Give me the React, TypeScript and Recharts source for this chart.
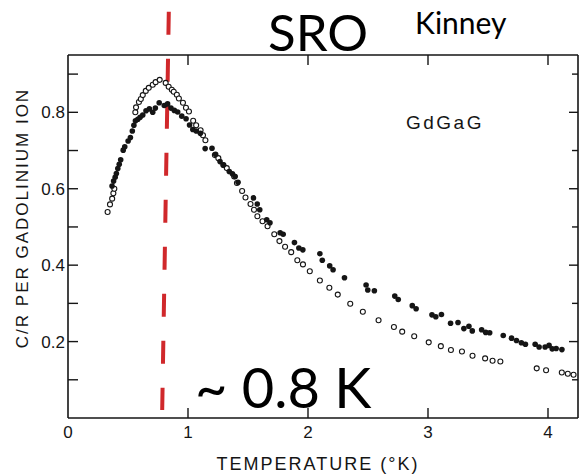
import React from "react";
import { ScatterChart, Scatter, XAxis, YAxis, ReferenceLine } from "recharts";

// open circles (calculated) - temperature (K) and C/R
const calcTemps = [
  0.33, 0.35, 0.368, 0.378, 0.386, 0.561, 0.567, 0.591, 0.607, 0.623, 0.648, 0.673,
  0.706, 0.73, 0.764, 0.814, 0.839, 0.865, 0.881, 0.907, 0.924, 0.958, 0.983, 1.008,
  1.043, 1.068, 1.105, 1.125, 1.145, 1.224, 1.253, 1.295, 1.323, 1.385, 1.408, 1.451,
  1.479, 1.521, 1.55, 1.578, 1.621, 1.663, 1.719, 1.762, 1.809, 1.86, 1.911, 1.958,
  2.015, 2.099, 2.178, 2.248, 2.352, 2.457, 2.588, 2.716, 2.785, 2.885, 3.006, 3.107,
  3.191, 3.283, 3.371, 3.476, 3.538, 3.603, 3.906, 3.984, 4.115, 4.165, 4.213,
];
const calcHeat = [
  0.539, 0.559, 0.574, 0.588, 0.6, 0.8, 0.813, 0.827, 0.835, 0.845, 0.856, 0.864,
  0.872, 0.879, 0.885, 0.877, 0.867, 0.859, 0.854, 0.846, 0.836, 0.825, 0.812, 0.802,
  0.778, 0.766, 0.753, 0.74, 0.727, 0.688, 0.68, 0.662, 0.654, 0.632, 0.615, 0.594,
  0.577, 0.56, 0.545, 0.528, 0.515, 0.502, 0.481, 0.463, 0.448, 0.434, 0.413, 0.402,
  0.384, 0.36, 0.341, 0.323, 0.299, 0.278, 0.256, 0.238, 0.226, 0.214, 0.198, 0.188,
  0.178, 0.174, 0.163, 0.156, 0.15, 0.148, 0.13, 0.125, 0.119, 0.116, 0.113,
];

// filled dots (measured)
const measTemps = [
  0.367, 0.38, 0.393, 0.403, 0.415, 0.427, 0.439, 0.46, 0.473, 0.501, 0.52, 0.536,
  0.549, 0.562, 0.582, 0.601, 0.623, 0.65, 0.678, 0.706, 0.728, 0.76, 0.802, 0.83,
  0.858, 0.886, 0.914, 0.948, 0.984, 1.013, 1.04, 1.069, 1.103, 1.143, 1.2, 1.23,
  1.267, 1.295, 1.344, 1.37, 1.393, 1.417, 1.546, 1.577, 1.598, 1.656, 1.683, 1.768,
  1.793, 1.887, 1.924, 1.957, 2.099, 2.119, 2.181, 2.209, 2.304, 2.484, 2.498, 2.553,
  2.723, 2.752, 2.869, 2.901, 3.033, 3.065, 3.112, 3.188, 3.25, 3.299, 3.341, 3.369,
  3.447, 3.481, 3.514, 3.627, 3.696, 3.737, 3.778, 3.812, 3.893, 3.926, 3.976, 4.009,
  4.035, 4.068, 4.116,
];
const measHeat = [
  0.607, 0.62, 0.63, 0.64, 0.653, 0.664, 0.676, 0.701, 0.71, 0.725, 0.734, 0.751,
  0.766, 0.778, 0.782, 0.787, 0.793, 0.804, 0.809, 0.8, 0.811, 0.825, 0.818, 0.822,
  0.811, 0.805, 0.801, 0.79, 0.783, 0.767, 0.755, 0.751, 0.745, 0.705, 0.706, 0.69,
  0.671, 0.662, 0.645, 0.639, 0.632, 0.617, 0.576, 0.56, 0.545, 0.519, 0.511, 0.485,
  0.481, 0.459, 0.445, 0.44, 0.43, 0.413, 0.398, 0.388, 0.367, 0.348, 0.335, 0.333,
  0.319, 0.31, 0.294, 0.286, 0.27, 0.265, 0.271, 0.248, 0.25, 0.234, 0.24, 0.228,
  0.231, 0.224, 0.223, 0.216, 0.209, 0.203, 0.197, 0.193, 0.193, 0.186, 0.186, 0.19,
  0.181, 0.182, 0.179,
];

const xTicks = [0, 1, 2, 3, 4];
const yTicks = [0.1, 0.2, 0.3, 0.4, 0.5, 0.6, 0.7, 0.8, 0.9];
const yLabelled = [0.2, 0.4, 0.6, 0.8];
const markerT = [0.84, 0.785]; // dashed guide, top and bottom
const markerC = [1.063, 0.021];

const calcData = calcTemps.map((t, i) => ({ t, c: calcHeat[i] }));
const measData = measTemps.map((t, i) => ({ t, c: measHeat[i] }));

const ink = "#151515";
const axisFont = "'Liberation Sans', Arial, sans-serif";

const BottomTick = (props: any) => {
  const { x, y, payload } = props;
  return (
    <g>
      {payload.value > 0 && (
        <line x1={x} y1={y} x2={x} y2={y - 10} stroke={ink} strokeWidth={1.4} />
      )}
      <text x={x} y={y + 20} textAnchor="middle" fontSize={17} fontFamily={axisFont} fill={ink}>
        {payload.value}
      </text>
    </g>
  );
};

const TopTick = (props: any) => {
  const { x, y } = props;
  return <line x1={x} y1={y} x2={x} y2={y + 10} stroke={ink} strokeWidth={1.4} />;
};

const LeftTick = (props: any) => {
  const { x, y, payload } = props;
  const v = Math.round(payload.value * 10) / 10;
  return (
    <g>
      <line x1={x} y1={y} x2={x + 10} y2={y} stroke={ink} strokeWidth={1.4} />
      {yLabelled.includes(v) && (
        <text x={x - 3} y={y + 6} textAnchor="end" fontSize={17} fontFamily={axisFont} fill={ink}>
          {v.toFixed(1)}
        </text>
      )}
    </g>
  );
};

const RightTick = (props: any) => {
  const { x, y, index } = props;
  const len = index % 2 === 1 ? 9 : 6;
  return <line x1={x} y1={y} x2={x - len} y2={y} stroke={ink} strokeWidth={1.4} />;
};

const OpenDot = (props: any) => (
  <circle cx={props.cx} cy={props.cy} r={2.5} fill="#fff" stroke={ink} strokeWidth={1.1} />
);
const FilledDot = (props: any) => (
  <circle cx={props.cx} cy={props.cy} r={2.8} fill={ink} />
);

export default function App() {
  return (
    <div style={{ position: "absolute", left: 0, top: 0, width: 579, height: 476, background: "#fff" }}>
      <ScatterChart
        width={579}
        height={476}
        margin={{ top: 0, right: 0, bottom: 0, left: 0 }}
      >
        <XAxis
          type="number"
          dataKey="t"
          domain={[0, 4.25]}
          ticks={xTicks}
          height={58}
          tick={<BottomTick />}
          tickLine={false}
          tickSize={0}
          tickMargin={0}
          axisLine={{ stroke: ink, strokeWidth: 1.6 }}
          allowDataOverflow
        />
        <XAxis
          xAxisId="top"
          orientation="top"
          type="number"
          dataKey="t"
          domain={[0, 4.25]}
          ticks={[1, 2, 3, 4]}
          height={55}
          tick={<TopTick />}
          tickLine={false}
          tickSize={0}
          tickMargin={0}
          axisLine={{ stroke: ink, strokeWidth: 1.6 }}
          allowDataOverflow
        />
        <YAxis
          type="number"
          dataKey="c"
          domain={[0, 0.95]}
          ticks={yTicks}
          width={68}
          tick={<LeftTick />}
          tickLine={false}
          tickSize={0}
          tickMargin={0}
          axisLine={{ stroke: ink, strokeWidth: 1.6 }}
          allowDataOverflow
        />
        <YAxis
          yAxisId="right"
          orientation="right"
          type="number"
          dataKey="c"
          domain={[0, 0.95]}
          ticks={yTicks}
          width={1}
          tick={<RightTick />}
          tickLine={false}
          tickSize={0}
          tickMargin={0}
          axisLine={{ stroke: ink, strokeWidth: 1.6 }}
          allowDataOverflow
        />
        <Scatter
          data={calcData}
          shape={<OpenDot />}
          isAnimationActive={false}
        />
        <Scatter
          data={measData}
          shape={<FilledDot />}
          isAnimationActive={false}
        />
        <ReferenceLine
          segment={[
            { x: markerT[0], y: markerC[0] },
            { x: markerT[1], y: markerC[1] },
          ]}
          stroke="#d0282b"
          strokeWidth={4}
          strokeDasharray="23 24"
          ifOverflow="visible"
        />
      </ScatterChart>
      <svg
        width={579}
        height={476}
        style={{ position: "absolute", left: 0, top: 0, pointerEvents: "none" }}
      >
        <text x={268} y={51} fontSize={51} fontFamily="Lato, sans-serif" fill="#000">
          SRO
        </text>
        <text x={415} y={34} fontSize={30} fontFamily="Lato, sans-serif" fill="#000">
          Kinney
        </text>
        <text x={195} y={408} fontSize={56} fontFamily="Lato, sans-serif" fill="#000">
          ~ 0.8 K
        </text>
        <text x={406} y={129} fontSize={19} letterSpacing={2.5} fontFamily={axisFont} fill={ink}>
          GdGaG
        </text>
        <text
          x={318}
          y={470}
          textAnchor="middle"
          fontSize={18}
          letterSpacing={2}
          fontFamily={axisFont}
          fill={ink}
        >
          TEMPERATURE (°K)
        </text>
        <text
          transform="translate(28 218) rotate(-90)"
          textAnchor="middle"
          fontSize={17}
          letterSpacing={2}
          fontFamily={axisFont}
          fill={ink}
        >
          C/R PER GADOLINIUM ION
        </text>
      </svg>
    </div>
  );
}
